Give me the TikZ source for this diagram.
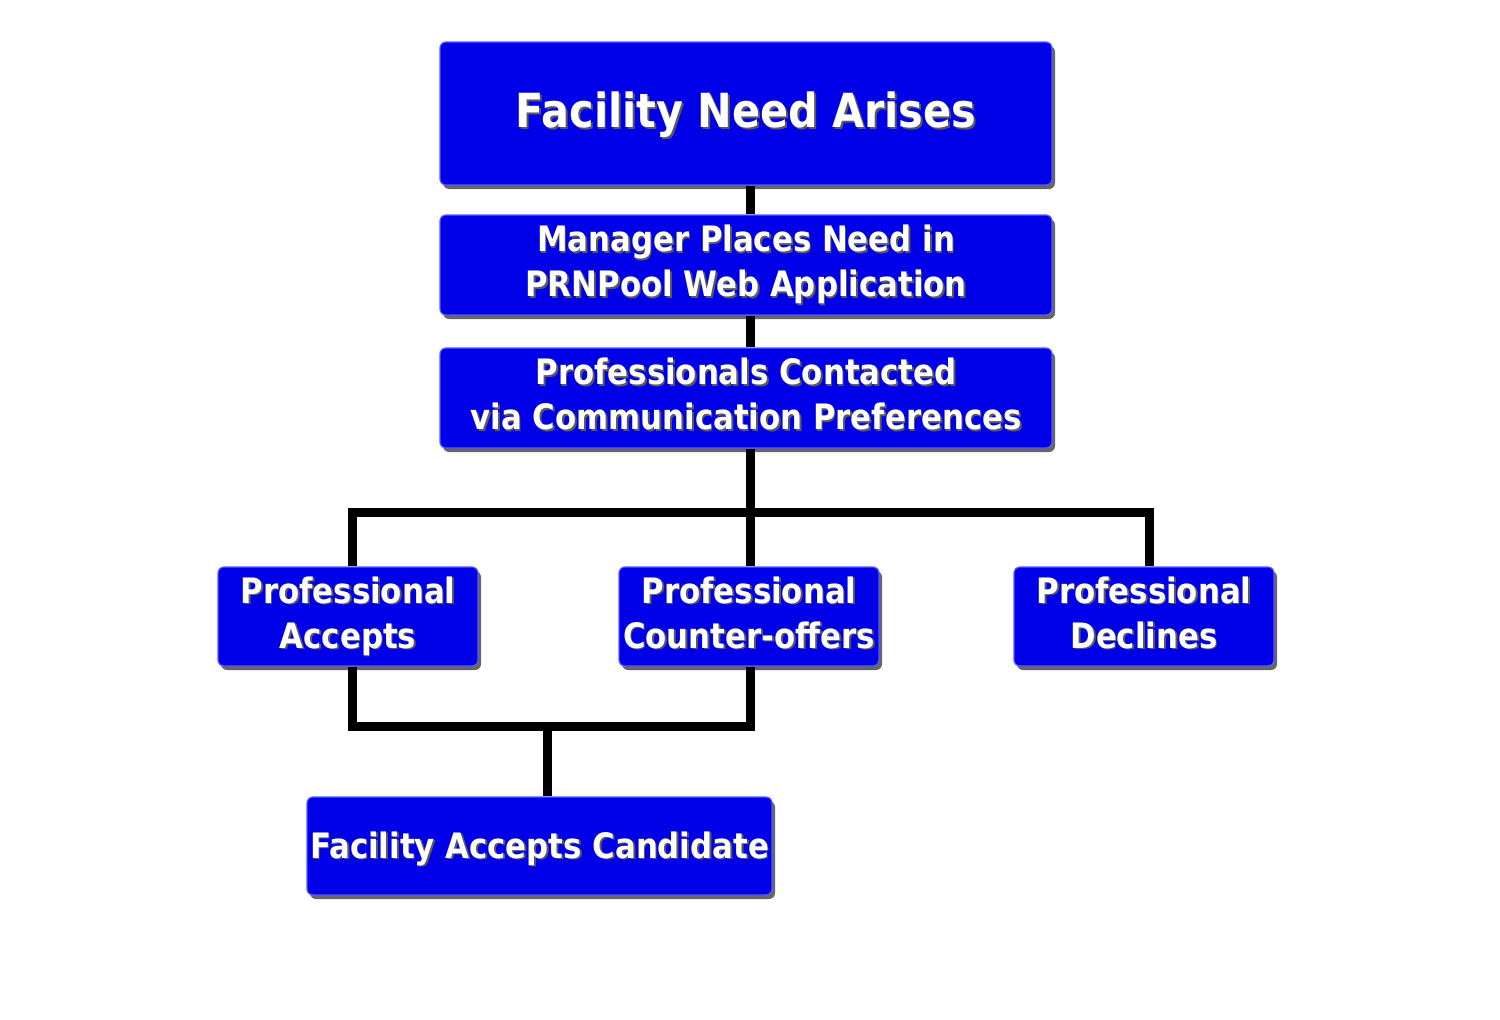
\documentclass[tikz,border=0pt]{standalone}
\usepackage{fontspec}
\setmainfont{DejaVu Sans}[FakeStretch=0.88]
\usetikzlibrary{shadows,backgrounds}
\definecolor{boxblue}{RGB}{0,0,232}
\definecolor{boxedge}{RGB}{90,90,255}
\definecolor{txtsh}{RGB}{90,90,90}
\newcommand\emb[1]{\leavevmode\strut\rlap{\kern1.8pt\raisebox{-1.8pt}{\textcolor{txtsh}{#1}}}\textcolor{white}{#1}}
\tikzset{
  flowbox/.style={draw=boxedge, line width=1.2pt, fill=boxblue, rounded corners=6pt,
    inner sep=0pt, align=center, font=\bfseries\fontsize{35}{45}\selectfont,
    drop shadow={shadow xshift=3pt, shadow yshift=-4pt, fill=black, opacity=0.6}},
  link/.style={line width=9pt, black}
}
\begin{document}
\begin{tikzpicture}[x=1pt,y=-1pt]
\useasboundingbox (0,0) rectangle (1500,1020);
\node[flowbox, minimum width=612pt, minimum height=143pt, font=\bfseries\fontsize{47}{56}\selectfont] (n1) at (746,113.5) {\raisebox{-3pt}[\height][\depth]{\emb{Facility Need Arises}}};
\node[flowbox, minimum width=612pt, minimum height=100pt] (n2) at (746,265) {\emb{Manager Places Need in}\\\emb{PRNPool Web Application}};
\node[flowbox, minimum width=612pt, minimum height=100pt] (n3) at (746,398) {\emb{Professionals Contacted}\\\emb{via Communication Preferences}};
\node[flowbox, minimum width=260pt, minimum height=99pt] (n4) at (348,616.5) {\emb{Professional}\\\emb{Accepts}};
\node[flowbox, minimum width=260pt, minimum height=99pt] (n5) at (749,616.5) {\emb{Professional}\\\emb{Counter-offers}};
\node[flowbox, minimum width=260pt, minimum height=99pt] (n6) at (1144,616.5) {\emb{Professional}\\\emb{Declines}};
\node[flowbox, minimum width=465pt, minimum height=98pt] (n7) at (539.5,846) {\raisebox{-3pt}[\height][\depth]{\emb{Facility Accepts Candidate}}};
\coordinate (jt) at (750,512);
\coordinate (jl) at (352,512);
\coordinate (jr) at (1149,512);
\coordinate (bl) at (352,726);
\coordinate (br) at (750,726);
\coordinate (bm) at (547,726);
\begin{pgfonlayer}{background}
\fill[white] (0,0) rectangle (1500,1020);
\draw[link] (n1.south -| jt) -- (n2.north -| jt);
\draw[link] (n2.south -| jt) -- (n3.north -| jt);
\draw[link] (n3.south -| jt) -- (jt);
\draw[link, line cap=rect] (jl) -- (jr);
\draw[link] (jl) -- (n4.north -| jl);
\draw[link] (jt) -- (n5.north -| jt);
\draw[link] (jr) -- (n6.north -| jr);
\draw[link] (n4.south -| bl) -- (bl) -- (br) -- (n5.south -| br);
\draw[link] (bm) -- (n7.north -| bm);
\end{pgfonlayer}
\end{tikzpicture}
\end{document}
